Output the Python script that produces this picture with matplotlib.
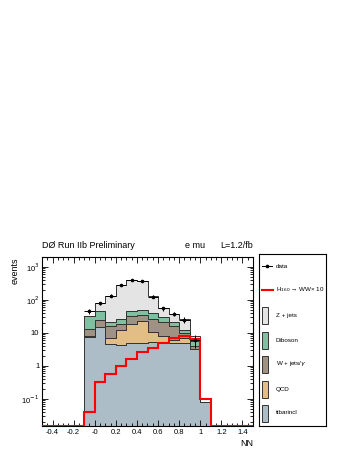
import numpy as np
import matplotlib
matplotlib.use("Agg")
import matplotlib.pyplot as plt
from matplotlib.patches import Rectangle
from matplotlib.lines import Line2D

plt.rcParams['font.family'] = ['Liberation Sans', 'DejaVu Sans']

# NN output bins, -0.1 .. 1.1 in steps of 0.1
edges = np.round(np.arange(-0.1, 1.15, 0.1), 2)
centers = (edges[:-1] + edges[1:]) / 2

# backgrounds (stacked from bottom to top)
ttbar   = [7.5, 15.0, 4.5, 4.2, 5.0, 5.0, 5.2, 5.0, 5.0, 4.8, 3.2, 0.08]
qcd     = [0.3, 0.5, 2.5, 7.8, 14.0, 18.0, 5.8, 3.0, 1.0, 2.2, 0.1, 0.0]
wjets   = [5.2, 9.5, 9.0, 7.0, 14.0, 13.0, 15.0, 14.0, 10.0, 3.0, 0.7, 0.0]
diboson = [19.0, 20.0, 6.0, 8.0, 12.0, 14.0, 14.0, 8.0, 6.0, 2.0, 1.6, 0.0]
zjets   = [1.0, 37.0, 113.0, 258.0, 345.0, 325.0, 95.0, 26.0, 16.0, 14.0, 2.3, 0.0]

# signal H(160) -> WW, scaled x10
higgs = [0.04, 0.32, 0.57, 1.0, 1.6, 2.6, 3.6, 5.0, 6.8, 7.8, 6.3, 0.1]

# data
data     = [45, 80, 135, 285, 400, 380, 125, 55, 38, 25, 6]
data_err = [7, 9, 12, 17, 20, 19, 11, 7.5, 6, 5, 2.4]

names  = ['ttbarincl', 'QCD', 'W + jets/$\\gamma$', 'Diboson', 'Z + jets']
colors = ['#adbdc8', '#e2bd85', '#a09282', '#80c0a0', '#e4e4e4']

ymin, ymax = 0.015, 2000

fig = plt.figure(figsize=(3.54, 4.58), dpi=100)
ax = fig.add_axes([42 / 354, 32 / 458, 211 / 354, 169 / 458])

stack = [ttbar, qcd, wjets, diboson, zjets]
base = np.full(len(ttbar), 1e-4)
for vals, col in zip(stack, colors):
    top = base + np.array(vals)
    ax.stairs(top, edges, baseline=base, fill=True, facecolor=col,
              edgecolor='#333333', linewidth=0.7)
    base = top

# signal line over the full axis range, empty bins drawn on the floor
h_edges = np.round(np.arange(-0.5, 1.55, 0.1), 2)
h_full = np.full(len(h_edges) - 1, ymin)
h_full[4:16] = higgs
ax.stairs(h_full, h_edges, color='red', linewidth=1.5, baseline=None, zorder=5)

ax.errorbar(centers[:len(data)], data, xerr=0.05, yerr=data_err, fmt='o',
            ms=1.6, color='black', elinewidth=0.7, capsize=0, zorder=6)

ax.set_yscale('log')
ax.set_xlim(-0.5, 1.5)
ax.set_ylim(ymin, ymax)

ax.set_xticks([-0.4, -0.2, 0.0, 0.2, 0.4, 0.6, 0.8, 1.0, 1.2, 1.4])
ax.set_xticklabels(['-0.4', '-0.2', '-0', '0.2', '0.4', '0.6', '0.8', '1', '1.2', '1.4'])
ax.set_xticks(np.arange(-0.5, 1.51, 0.05), minor=True)
ax.set_yticks([0.1, 1, 10, 100, 1000])
ax.set_yticklabels(['10$^{-1}$', '1', '10', '10$^{2}$', '10$^{3}$'])
ax.tick_params(which='both', direction='in', top=True, right=True, labelsize=5.5,
               width=0.6, pad=2)
ax.tick_params(which='major', length=4)
ax.tick_params(which='minor', length=2)
for s in ax.spines.values():
    s.set_linewidth(0.8)

ax.set_xlabel('NN', fontsize=6.5, loc='right', labelpad=2)
ax.set_ylabel('events', fontsize=6.5, loc='top', labelpad=1)

fig.text(42 / 354, 1 - 245 / 458, 'DØ Run IIb Preliminary', fontsize=6.5, va='center')
fig.text(185 / 354, 1 - 245 / 458, 'e mu', fontsize=6.5, va='center')
fig.text(253 / 354, 1 - 245 / 458, 'L=1.2/fb', fontsize=6.5, va='center', ha='right')

# legend box drawn by hand in its own axes (pixel units, y from top)
lg = fig.add_axes([259 / 354, 32 / 458, 67 / 354, 172 / 458])
lg.set_xlim(0, 67)
lg.set_ylim(172, 0)
lg.set_xticks([])
lg.set_yticks([])
for s in lg.spines.values():
    s.set_linewidth(0.8)

lg.add_line(Line2D([3.3, 12.7], [12, 12], color='black', lw=0.7))
lg.plot([8], [12], 'o', ms=1.6, color='black')
lg.text(16.7, 12, 'data', fontsize=4.5, va='center')
lg.add_line(Line2D([3.3, 13.7], [36, 36], color='red', lw=1.5))
lg.text(16.7, 36, 'H$_{160}$ → WW× 10', fontsize=4.5, va='center')

rows = [61, 86, 110, 135, 159]
for y, name, col in zip(rows, names[::-1], colors[::-1]):
    lg.add_patch(Rectangle((3.3, y - 8.5), 6, 17, facecolor=col,
                           edgecolor='#333333', lw=0.7))
    lg.text(16.7, y, name, fontsize=4.5, va='center')

fig.savefig('out.png', dpi=100)
